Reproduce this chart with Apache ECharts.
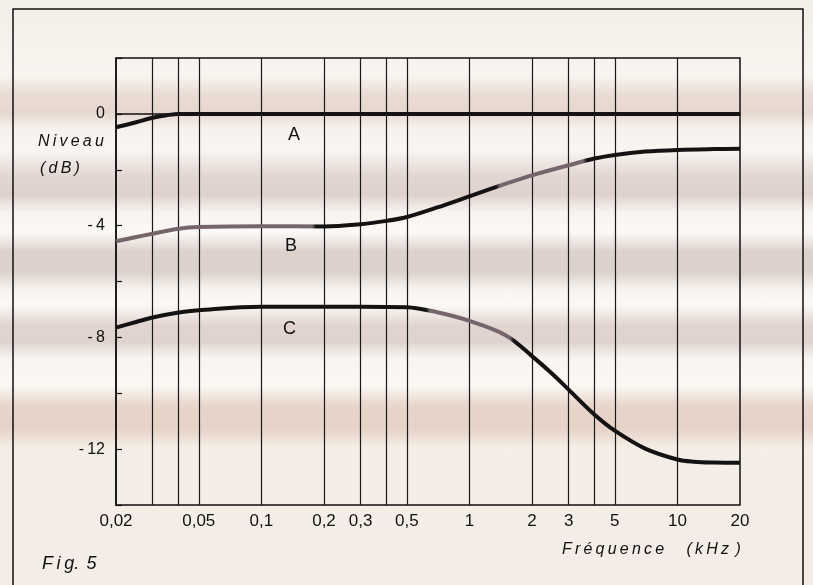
<!DOCTYPE html>
<html><head><meta charset="utf-8">
<script src="https://cdn.jsdelivr.net/npm/echarts@6/dist/echarts.min.js"></script>
<style>
html,body{margin:0;padding:0;background:#f6f1ec;}
#c{width:813px;height:585px;
background: linear-gradient(180deg,
 #f4eee8 0px, #f8f4ef 75px, #eadcd4 95px, #e6d6cf 112px, #f6f1ec 128px,
 #f9f6f2 150px, #e3d7d3 175px, #dfd2cd 195px, #f7f3ef 212px,
 #fbf9f6 232px, #ddd1cc 252px, #ddd1cc 272px, #f8f4f0 290px,
 #fbf8f5 305px, #e2d5cf 325px, #e0d3ce 342px, #f8f4f0 358px,
 #fbf8f4 385px, #e8d6cb 405px, #e6d2c6 428px, #f4eee7 448px,
 #f3ede6 585px);}
</style></head>
<body><div id="c"></div>
<script>
// ---- data ----
const xTickLabels = [0.02, 0.05, 0.1, 0.2, 0.3, 0.5, 1, 2, 3, 5, 10, 20];
const gridFreqs = [0.03, 0.04, 0.05, 0.1, 0.2, 0.3, 0.4, 0.5, 1, 2, 3, 4, 5, 10];
const yTickLabels = [0, -4, -8, -12];

const freqA = [0.02, 0.025, 0.03, 0.035, 0.04, 0.05, 0.1, 0.2, 0.5, 1, 2, 5, 10, 20];
const levelA = [-0.48, -0.3, -0.14, -0.05, 0, 0, 0, 0, 0, 0, 0, 0, 0, 0];

const freqB = [0.02, 0.025, 0.03, 0.04, 0.05, 0.1, 0.2, 0.3, 0.4, 0.5, 0.7, 1, 1.5, 2, 3, 4, 5, 7, 10, 15, 20];
const levelB = [-4.56, -4.41, -4.29, -4.11, -4.05, -4.02, -4.03, -3.95, -3.83, -3.69, -3.35, -2.95, -2.5, -2.2, -1.84, -1.6, -1.47, -1.35, -1.29, -1.26, -1.25];

const freqC = [0.02, 0.025, 0.03, 0.04, 0.05, 0.1, 0.2, 0.3, 0.5, 0.7, 1, 1.5, 2, 2.5, 3, 4, 5, 7, 10, 12, 15, 20];
const levelC = [-7.65, -7.45, -7.29, -7.11, -7.03, -6.9, -6.9, -6.9, -6.92, -7.1, -7.41, -7.93, -8.67, -9.3, -9.87, -10.77, -11.34, -11.98, -12.37, -12.45, -12.48, -12.49];

const curveNames = ['A', 'B', 'C'];

// ---- chart ----
const chart = echarts.init(document.getElementById('c'), null, {renderer: 'canvas'});
const FONT = 'Liberation Sans';
const pair = (xs, ys) => xs.map((x, i) => [x, ys[i]]);
const INK = '#141212', FADED = '#76656b';
// print-ink shading along the curves (horizontal pixel bands)
const inkBands = (bands) => {
  const W = 813, stops = [{offset: 0, color: INK}];
  bands.forEach(([a, b]) => {
    stops.push({offset: (a - 4) / W, color: INK}, {offset: a / W, color: FADED},
               {offset: b / W, color: FADED}, {offset: (b + 4) / W, color: INK});
  });
  stops.push({offset: 1, color: INK});
  return new echarts.graphic.LinearGradient(0, 0, W, 0, stops, true);
};

const mkCurve = (name, xs, ys, color) => ({
  name, type: 'line', data: pair(xs, ys), smooth: 0.35,
  showSymbol: false, symbol: 'none', lineStyle: {color, width: 4}, silent: true, z: 5
});

chart.setOption({
  backgroundColor: 'transparent',
  animation: false,
  grid: {left: 116, top: 58, width: 624, height: 447, show: true,
         borderColor: '#111', borderWidth: 1.5, backgroundColor: 'transparent'},
  xAxis: {
    type: 'log', logBase: 10, min: 0.02, max: 20,
    axisLine: {show: true, lineStyle: {color: '#111', width: 1.5}},
    axisTick: {show: false},
    splitLine: {show: false},
    minorTick: {show: false}, minorSplitLine: {show: false},
    axisLabel: {
      customValues: xTickLabels, margin: 8,
      color: '#111', fontFamily: FONT, fontSize: 17,
      formatter: v => String(v).replace('.', ',')
    }
  },
  yAxis: {
    type: 'value', min: -14, max: 2, interval: 2,
    axisLine: {show: true, lineStyle: {color: '#111', width: 1.5}},
    axisTick: {show: true, inside: true, length: 6, lineStyle: {color: '#111', width: 1.2}},
    splitLine: {show: false},
    axisLabel: {
      margin: 11, color: '#111', fontFamily: FONT, fontSize: 16,
      formatter: v => yTickLabels.indexOf(v) >= 0 ? (v < 0 ? '-\u2009' + Math.abs(v) : String(v)) : ''
    }
  },
  series: [
    {
      name: 'grid', type: 'line', data: [], silent: true, z: 2,
      markLine: {
        silent: true, symbol: ['none', 'none'], animation: false,
        label: {show: false},
        lineStyle: {color: '#1a1a1a', width: 1.2, type: 'solid'},
        data: gridFreqs.map(f => ({xAxis: f}))
      }
    },
    mkCurve(curveNames[0], freqA, levelA, INK),
    mkCurve(curveNames[1], freqB, levelB, inkBands([[100, 312], [500, 583]])),
    mkCurve(curveNames[2], freqC, levelC, inkBands([[430, 510]]))
  ],
  graphic: [
    {type: 'rect', shape: {x: 13, y: 9, width: 790, height: 620}, silent: true,
     style: {fill: 'none', stroke: '#111', lineWidth: 1.5}},
    {type: 'text', left: 38, top: 134, silent: true,
     style: {text: 'N\u2009i\u2009v\u2009e\u2009a\u2009u', font: 'italic 16px ' + FONT, fill: '#111'}},
    {type: 'text', left: 40, top: 161, silent: true,
     style: {text: '(\u2009d\u2009B\u2009)', font: 'italic 16px ' + FONT, fill: '#111'}},
    {type: 'text', left: 288, top: 126, silent: true,
     style: {text: curveNames[0], font: '18px ' + FONT, fill: '#111'}},
    {type: 'text', left: 285, top: 237, silent: true,
     style: {text: curveNames[1], font: '18px ' + FONT, fill: '#111'}},
    {type: 'text', left: 283, top: 320, silent: true,
     style: {text: curveNames[2], font: '18px ' + FONT, fill: '#111'}},
    {type: 'text', left: 562, top: 542, silent: true,
     style: {text: 'F\u2009r\u2009é\u2009q\u2009u\u2009e\u2009n\u2009c\u2009e\u2003\u2009\u2009(\u2009k\u2009H\u2009z\u2009\u2009)', font: 'italic 16px ' + FONT, fill: '#111'}},
    {type: 'text', left: 42, top: 555, silent: true,
     style: {text: 'F\u2009i\u2009g.\u2009\u20095', font: 'italic 18px ' + FONT, fill: '#111'}}
  ]
});
</script></body></html>
